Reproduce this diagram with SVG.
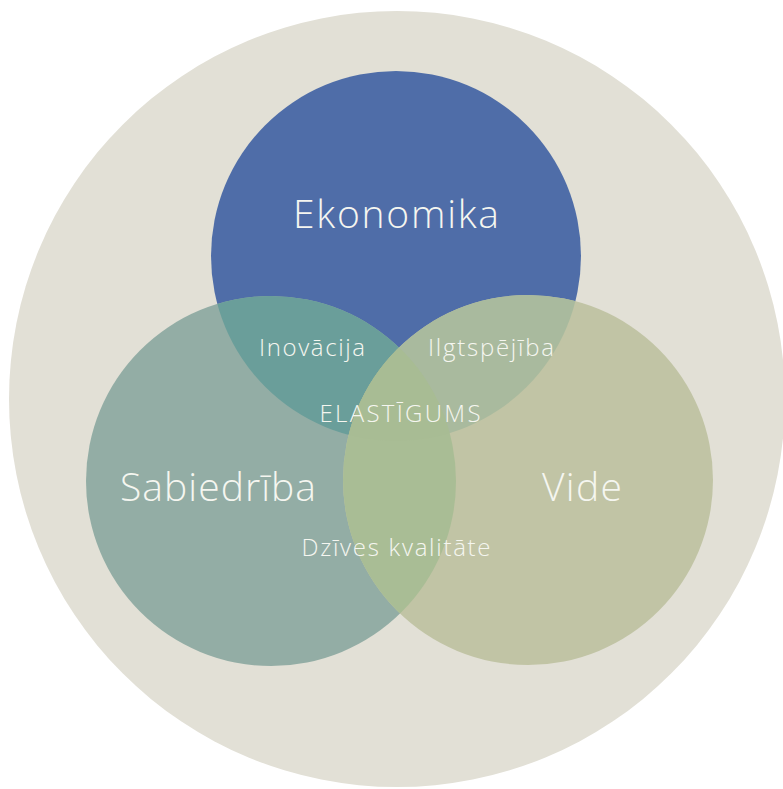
<svg xmlns="http://www.w3.org/2000/svg" width="783" height="789" viewBox="0 0 783 789">
<style>
.lbl{font-family:"Open Sans","Noto Sans","Liberation Sans",sans-serif;fill:#F5F6F0;text-anchor:middle;font-weight:300}
.big{font-size:39px}
.sm{font-size:24px}
</style>
<defs>
<clipPath id="cE"><circle cx="396" cy="256" r="185"/></clipPath>
<clipPath id="cS"><circle cx="271" cy="481" r="185"/></clipPath>
<clipPath id="cV"><circle cx="528" cy="480" r="185"/></clipPath>
</defs>
<rect width="783" height="789" fill="#FFFFFF"/>
<circle id="bg" cx="397" cy="399" r="388" fill="#E2E0D6"/>
<g id="ekonomika"><circle cx="396" cy="256" r="185" fill="#4F6DA8"/></g>
<g id="sabiedriba"><circle cx="271" cy="481" r="185" fill="#93ADA5"/></g>
<g id="vide"><circle cx="528" cy="480" r="185" fill="#C1C4A5"/></g>
<g id="inovacija" clip-path="url(#cE)"><circle cx="271" cy="481" r="185" fill="#6A9E9A"/></g>
<g id="ilgtspejiba" clip-path="url(#cE)"><circle cx="528" cy="480" r="185" fill="#A9BA9E"/></g>
<g id="dzives" clip-path="url(#cS)"><circle cx="528" cy="480" r="185" fill="#A9BD95"/></g>
<g id="elastigums" clip-path="url(#cS)"><g clip-path="url(#cV)"><circle cx="396" cy="256" r="185" fill="#A8BC94"/></g></g>
<g id="labels">
<text class="lbl big" x="396" y="228" textLength="206">Ekonomika</text>
<text class="lbl big" x="218" y="501" textLength="196">Sabiedrība</text>
<text class="lbl big" x="582" y="501" textLength="80">Vide</text>
<text class="lbl sm" x="312" y="356" textLength="106">Inovācija</text>
<text class="lbl sm" x="491" y="356" textLength="126">Ilgtspējība</text>
<text class="lbl sm" x="400" y="422" textLength="161">ELASTĪGUMS</text>
<text class="lbl sm" x="396" y="556" textLength="189">Dzīves kvalitāte</text>
</g>
<g id="connectors"/>
</svg>
